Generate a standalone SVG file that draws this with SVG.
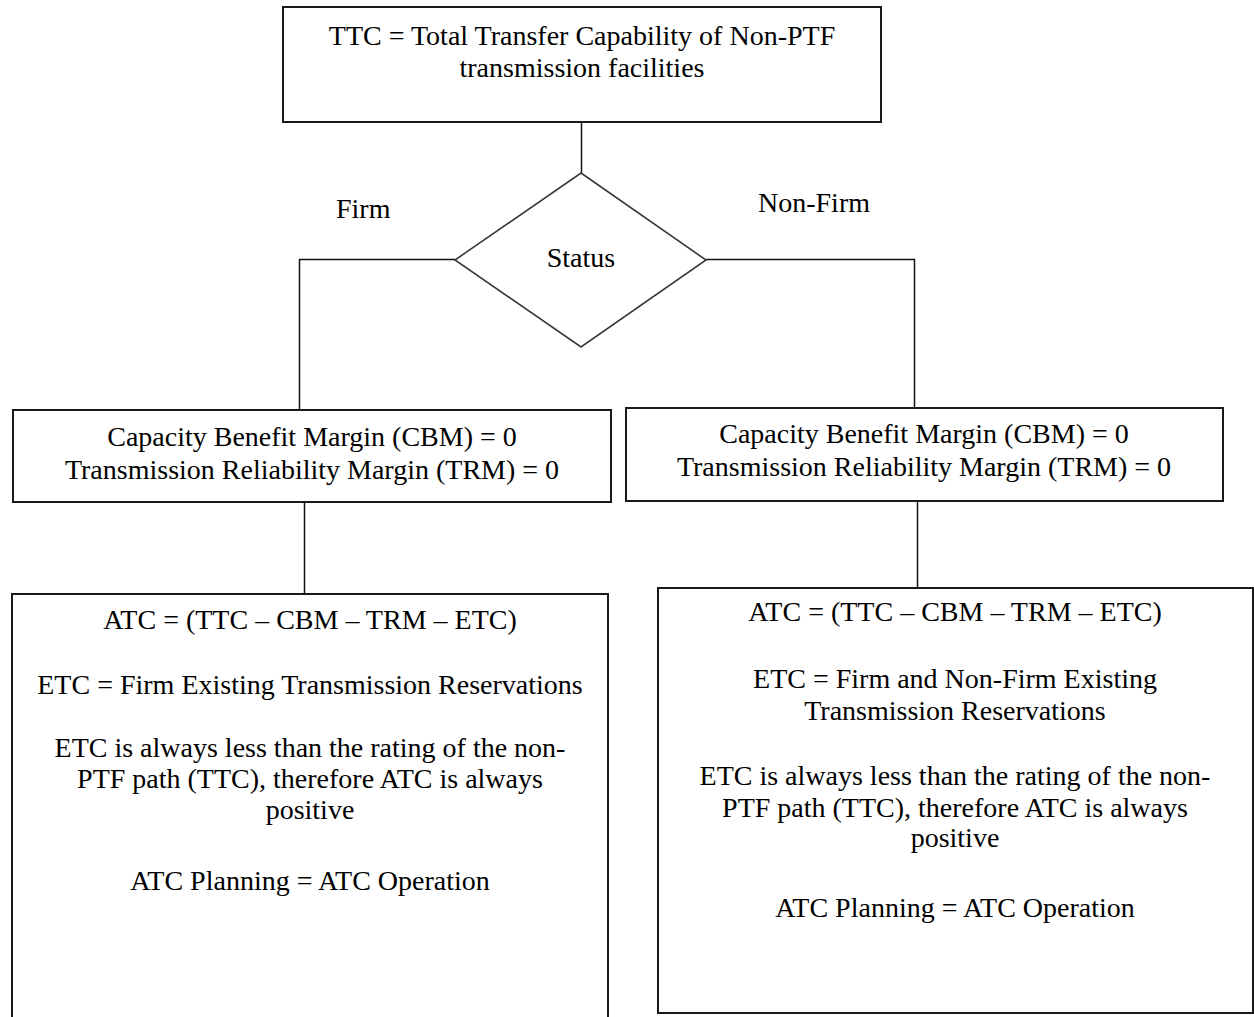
<svg xmlns="http://www.w3.org/2000/svg" width="1254" height="1017" viewBox="0 0 1254 1017">
<style>
.box{fill:#fff;stroke:#1a1a1a;stroke-width:2}
.dia{fill:#fff;stroke:#3a3a3a;stroke-width:1.6}
.ln{fill:none;stroke:#111;stroke-width:1.5}
text{font-family:"Liberation Serif","Times New Roman",serif;font-size:28px;fill:#000}
.c{text-anchor:middle}
</style>
<rect width="1254" height="1017" fill="#fff"/>
<g id="connectors">
<path class="ln" d="M581.5,122 V173"/>
<path class="ln" d="M455,259.5 H299.5 V410"/>
<path class="ln" d="M706,259.5 H914.5 V408"/>
<path class="ln" d="M304.5,502 V594" stroke="#444"/>
<path class="ln" d="M917.5,501 V588"/>
</g>
<g id="labels">
<text x="336" y="218">Firm</text>
<text x="758" y="212">Non-Firm</text>
</g>
<g id="ttc">
<rect class="box" x="283" y="7" width="598" height="115"/>
<text class="c" x="582" y="45">TTC = Total Transfer Capability of Non-PTF</text>
<text class="c" x="582" y="77">transmission facilities</text>
</g>
<g id="status">
<polygon class="dia" points="581,173 706,260 581,347 455,260"/>
<text class="c" x="581" y="267">Status</text>
</g>
<g id="firm-margins">
<rect class="box" x="13" y="410" width="598" height="92"/>
<text class="c" x="312" y="446">Capacity Benefit Margin (CBM) = 0</text>
<text class="c" x="312" y="479">Transmission Reliability Margin (TRM) = 0</text>
</g>
<g id="nonfirm-margins">
<rect class="box" x="626" y="408" width="597" height="93"/>
<text class="c" x="924" y="443">Capacity Benefit Margin (CBM) = 0</text>
<text class="c" x="924" y="476">Transmission Reliability Margin (TRM) = 0</text>
</g>
<g id="firm-atc">
<rect class="box" x="12" y="594" width="596" height="440"/>
<text class="c" x="310" y="629">ATC = (TTC – CBM – TRM – ETC)</text>
<text class="c" x="310" y="694">ETC = Firm Existing Transmission Reservations</text>
<text class="c" x="310" y="757">ETC is always less than the rating of the non-</text>
<text class="c" x="310" y="788">PTF path (TTC), therefore ATC is always</text>
<text class="c" x="310" y="819">positive</text>
<text class="c" x="310" y="890">ATC Planning = ATC Operation</text>
</g>
<g id="nonfirm-atc">
<rect class="box" x="658" y="588" width="595" height="425"/>
<text class="c" x="955" y="621">ATC = (TTC – CBM – TRM – ETC)</text>
<text class="c" x="955" y="688">ETC = Firm and Non-Firm Existing</text>
<text class="c" x="955" y="720">Transmission Reservations</text>
<text class="c" x="955" y="785">ETC is always less than the rating of the non-</text>
<text class="c" x="955" y="817">PTF path (TTC), therefore ATC is always</text>
<text class="c" x="955" y="847">positive</text>
<text class="c" x="955" y="917">ATC Planning = ATC Operation</text>
</g>
</svg>
